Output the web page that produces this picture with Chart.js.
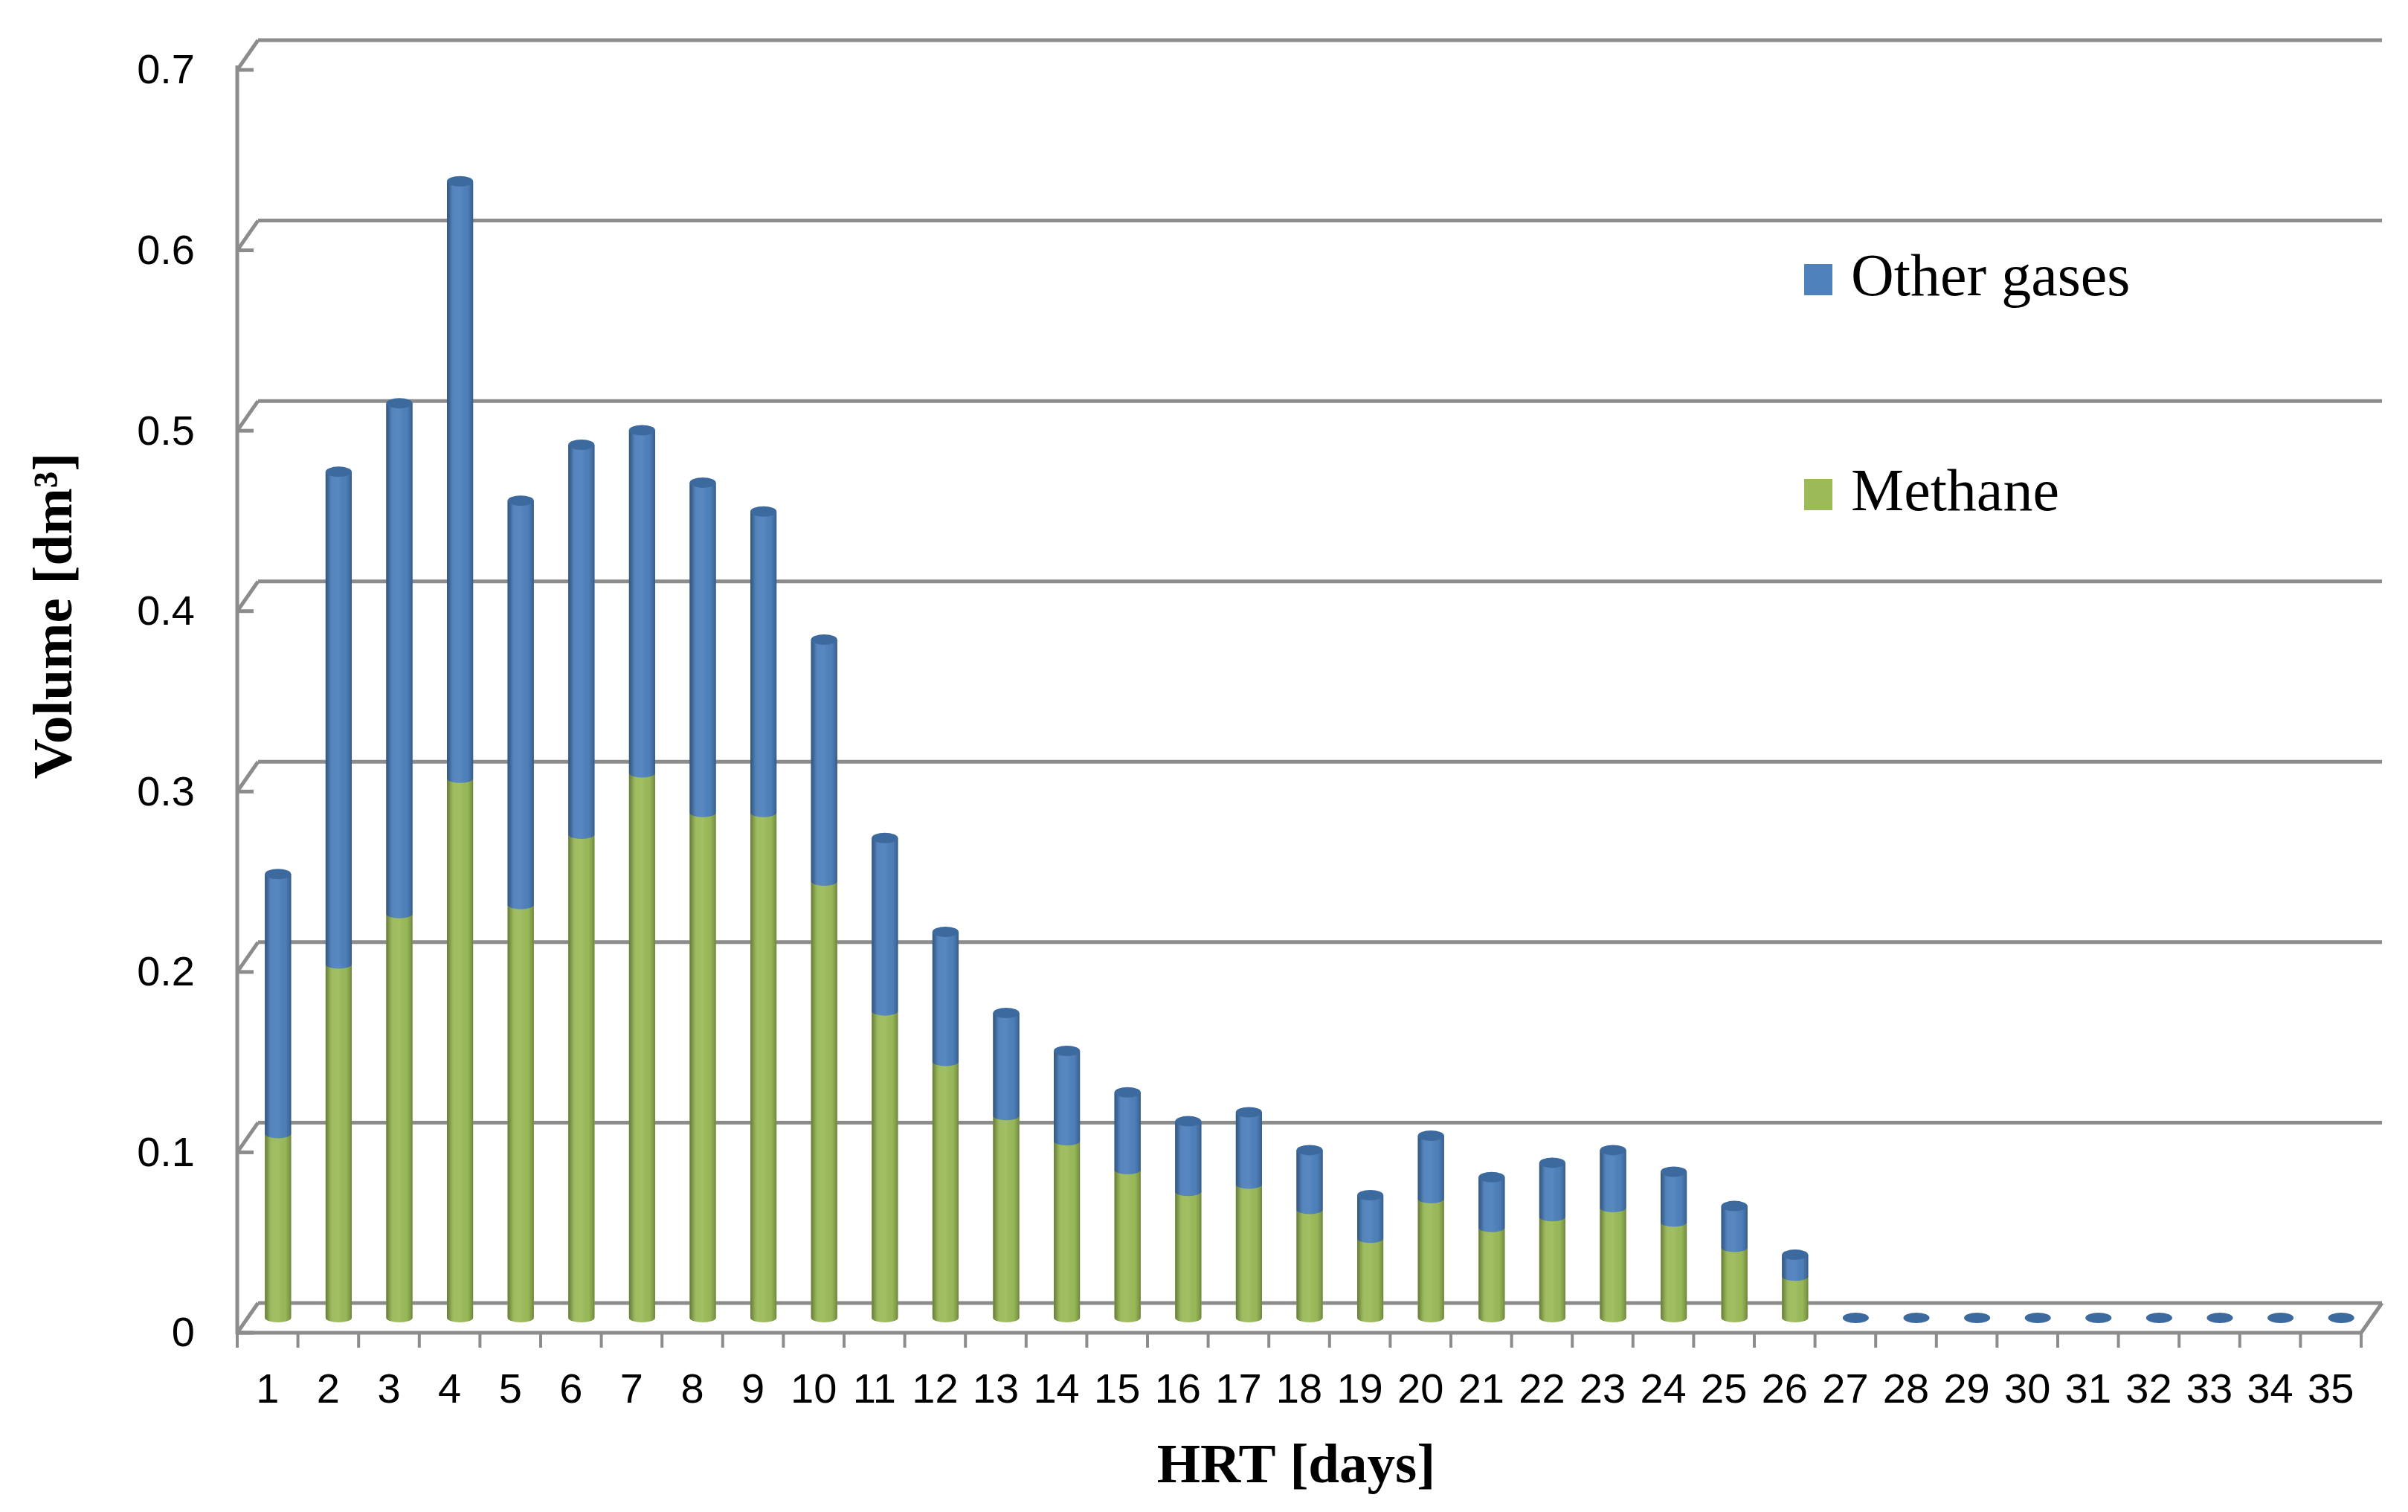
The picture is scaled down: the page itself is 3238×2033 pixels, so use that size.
<!DOCTYPE html>
<html>
<head>
<meta charset="utf-8">
<title>Biogas volume vs HRT</title>
<script src="https://cdn.jsdelivr.net/npm/chart.js@4.4.1/dist/chart.umd.min.js"></script>
<style>
  html, body { margin: 0; padding: 0; background: #fff; }
  #wrap { position: relative; width: 3238px; height: 2033px; }
</style>
</head>
<body>
<div id="wrap"><canvas id="chart"></canvas></div>
<script>
// ── Data ─────────────────────────────────────────────────────
const days = ['1', '2', '3', '4', '5', '6', '7', '8', '9', '10', '11', '12', '13', '14', '15', '16', '17', '18',
    '19', '20', '21', '22', '23', '24', '25', '26', '27', '28', '29', '30', '31', '32', '33', '34', '35'];

const methane = [0.102, 0.196, 0.224, 0.299, 0.229, 0.268, 0.302, 0.280, 0.280, 0.242, 0.170, 0.142, 0.112,
    0.098, 0.082, 0.070, 0.074, 0.060, 0.044, 0.066, 0.050, 0.056, 0.061, 0.053, 0.039, 0.023,
    0, 0, 0, 0, 0, 0, 0, 0, 0];

const otherGases = [0.144, 0.273, 0.283, 0.331, 0.224, 0.216, 0.190, 0.183, 0.167, 0.134, 0.096, 0.072, 0.057,
    0.050, 0.043, 0.039, 0.040, 0.033, 0.024, 0.035, 0.028, 0.030, 0.032, 0.028, 0.023, 0.012,
    0, 0, 0, 0, 0, 0, 0, 0, 0];

const yTickLabels = ['0', '0.1', '0.2', '0.3', '0.4', '0.5', '0.6', '0.7'];

// ── Look ─────────────────────────────────────────────────────
const BLUE = '#4F81BD';
const GREEN = '#9BBB59';
const CAP_BLUE = '#3D6A9E';
const FRAME = '#8c8c8c';
const SERIF = "'Liberation Serif', 'DejaVu Serif', serif";
const SANS = "'Liberation Sans Narrow', 'Liberation Sans', 'Open Sans', sans-serif";

// half the depth of the fake 3D box (front wall -> bar plane -> back wall)
const DX = 14;
const DY = 20;
const RY = 6;

function line(ctx, x1, y1, x2, y2) {
    ctx.beginPath();
    ctx.moveTo(x1, y1);
    ctx.lineTo(x2, y2);
    ctx.stroke();
}

// ── Back wall, floor and front axis ──────────────────────────
const frame3d = {
    id: 'frame3d',
    beforeDatasetsDraw(chart) {
        const { ctx, chartArea: a, scales: { x, y } } = chart;
        const fl = a.left - DX, fr = a.right - DX;
        const bl = a.left + DX, br = a.right + DX;
        const y0 = y.getPixelForValue(0);
        const yTop = y.getPixelForValue(y.max);

        ctx.save();
        ctx.strokeStyle = FRAME;
        ctx.lineWidth = 5;
        ctx.lineCap = 'butt';
        ctx.lineJoin = 'round';

        y.ticks.forEach(t => {
            const py = y.getPixelForValue(t.value);
            line(ctx, bl, py - DY, br, py - DY);
            line(ctx, fl, py + DY, bl, py - DY);
            line(ctx, fl, py + DY, fl + 22, py + DY);
        });

        // front vertical axis
        line(ctx, fl, yTop + DY - 6, fl, y0 + DY + 2);

        // floor front edge + right side
        ctx.beginPath();
        ctx.moveTo(fl, y0 + DY);
        ctx.lineTo(fr, y0 + DY);
        ctx.lineTo(br, y0 - DY);
        ctx.stroke();

        // category tick marks on the front edge
        ctx.lineWidth = 4;
        for (let i = 0; i <= days.length; i++) {
            const px = x.getPixelForValue(i - 0.5) - DX;
            line(ctx, px, y0 + DY, px, y0 + DY + 20);
        }
        ctx.restore();
    }
};

// ── Cylinder shading over the Chart.js bars ──────────────────
function segmentPath(ctx, x, top, base, rx) {
    ctx.beginPath();
    ctx.moveTo(x - rx, top);
    ctx.lineTo(x - rx, base);
    ctx.ellipse(x, base, rx, RY, 0, Math.PI, 0, true);
    ctx.lineTo(x + rx, top);
    ctx.closePath();
}

const cylinders = {
    id: 'cylinders',
    afterDatasetsDraw(chart) {
        const ctx = chart.ctx;
        ctx.save();
        chart.data.datasets.forEach((ds, di) => {
            const meta = chart.getDatasetMeta(di);
            meta.data.forEach(bar => {
                const { x, y, base, width } = bar.getProps(['x', 'y', 'base', 'width'], true);
                if (base - y < 0.5) return;
                const rx = width / 2;
                const g = ctx.createLinearGradient(x - rx, 0, x + rx, 0);
                g.addColorStop(0, 'rgba(0,0,0,0.34)');
                g.addColorStop(0.12, 'rgba(0,0,0,0.16)');
                g.addColorStop(0.3, 'rgba(255,255,255,0.04)');
                g.addColorStop(0.5, 'rgba(255,255,255,0.06)');
                g.addColorStop(0.78, 'rgba(0,0,0,0.02)');
                g.addColorStop(0.92, 'rgba(0,0,0,0.16)');
                g.addColorStop(1, 'rgba(0,0,0,0.3)');
                segmentPath(ctx, x, y, base, rx);
                ctx.fillStyle = ds.backgroundColor;
                ctx.fill();
                ctx.fillStyle = g;
                ctx.fill();
            });
        });

        // top caps (also the flat discs of the empty days)
        const topMeta = chart.getDatasetMeta(chart.data.datasets.length - 1);
        topMeta.data.forEach(bar => {
            const { x, y, width } = bar.getProps(['x', 'y', 'width'], true);
            ctx.beginPath();
            ctx.ellipse(x, y, width / 2, RY + 1, 0, 0, Math.PI * 2);
            ctx.fillStyle = CAP_BLUE;
            ctx.fill();
        });
        ctx.restore();
    }
};

// ── Axis titles and legend ───────────────────────────────────
const legendRows = [
    { label: 'Other gases', color: BLUE, cy: 376 },
    { label: 'Methane', color: GREEN, cy: 665 },
];

const annotations = {
    id: 'annotations',
    afterDraw(chart) {
        const ctx = chart.ctx;
        ctx.save();
        ctx.fillStyle = '#000';

        // x title
        ctx.font = `bold 75px ${SERIF}`;
        ctx.textAlign = 'center';
        ctx.textBaseline = 'alphabetic';
        ctx.fillText('HRT [days]', 1743, 1993);

        // y title
        ctx.save();
        ctx.translate(96, 828);
        ctx.rotate(-Math.PI / 2);
        ctx.fillText('Volume [dm³]', 0, 0);
        ctx.restore();

        // legend
        ctx.textAlign = 'left';
        ctx.font = `80px ${SERIF}`;
        legendRows.forEach(r => {
            ctx.fillStyle = r.color;
            ctx.fillRect(2426, r.cy - 21, 38, 42);
            ctx.fillStyle = '#000';
            ctx.fillText(r.label, 2489, r.cy + 21);
        });
        ctx.restore();
    }
};

// ── Chart ────────────────────────────────────────────────────
new Chart(document.getElementById('chart'), {
    type: 'bar',
    data: {
        labels: days,
        datasets: [
            { label: 'Methane', data: methane, backgroundColor: GREEN, borderWidth: 0 },
            { label: 'Other gases', data: otherGases, backgroundColor: BLUE, borderWidth: 0 },
        ],
    },
    options: {
        responsive: true,
        maintainAspectRatio: false,
        animation: false,
        events: [],
        layout: { padding: { top: 74, right: 49, left: 0, bottom: 0 } },
        datasets: { bar: { barPercentage: 0.43, categoryPercentage: 1.0 } },
        plugins: {
            legend: { display: false },
            tooltip: { enabled: false },
        },
        scales: {
            x: {
                stacked: true,
                grid: { display: false, drawTicks: false },
                border: { display: false },
                ticks: {
                    color: '#000',
                    font: { family: SANS, size: 56 },
                    padding: 65,
                    labelOffset: -DX,
                    maxRotation: 0,
                    autoSkip: false,
                },
                afterFit(scale) {
                    scale.height = 261;
                    scale.paddingLeft = 0;
                    scale.paddingRight = 0;
                },
            },
            y: {
                stacked: true,
                min: 0,
                max: 0.7,
                grid: { display: false, drawTicks: false },
                border: { display: false },
                ticks: {
                    stepSize: 0.1,
                    color: '#000',
                    font: { family: SANS, size: 56 },
                    padding: 71,
                    labelOffset: 23,
                    callback: (v, i) => yTickLabels[i],
                },
                afterFit(scale) {
                    scale.width = 333;
                    scale.paddingTop = 0;
                    scale.paddingBottom = 0;
                },
            },
        },
    },
    plugins: [frame3d, cylinders, annotations],
});
</script>
</body>
</html>
